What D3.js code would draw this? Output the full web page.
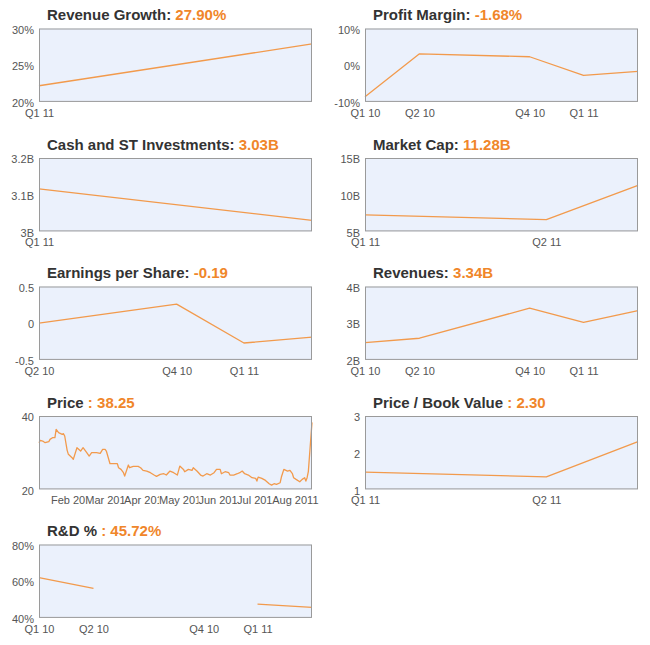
<!DOCTYPE html>
<html>
<head>
<meta charset="utf-8">
<script src="https://cdn.jsdelivr.net/npm/d3@7"></script>
<style>
  html, body { margin: 0; padding: 0; background: #fff; }
  svg { display: block; font-family: Arial, "Liberation Sans", sans-serif; }
</style>
</head>
<body>
<svg id="chart" width="650" height="645"></svg>
<script>
// ---------- DATA ----------
const periodDates = {
  "Q1 10": "2010-03-31", "Q2 10": "2010-06-30", "Q3 10": "2010-09-30",
  "Q4 10": "2010-12-31", "Q1 11": "2011-03-31", "Q2 11": "2011-06-30",
  "Current": "2011-08-15"
};

const revenueGrowthPeriods = ["Q1 11", "Q2 11"];
const revenueGrowthValues = [22.2, 27.9];
const revenueGrowthTicks = [20, 25, 30];
const revenueGrowthLabels = ["Q1 11"];

const profitMarginPeriods = ["Q1 10", "Q2 10", "Q4 10", "Q1 11", "Q2 11"];
const profitMarginValues = [-8.6, 3.1, 2.3, -2.8, -1.68];
const profitMarginTicks = [-10, 0, 10];
const profitMarginLabels = ["Q1 10", "Q2 10", "Q4 10", "Q1 11"];

const cashPeriods = ["Q1 11", "Q2 11"];
const cashValues = [3.116, 3.03];
const cashTicks = [3, 3.1, 3.2];
const cashLabels = ["Q1 11"];

const marketCapPeriods = ["Q1 11", "Q2 11", "Current"];
const marketCapValues = [7.25, 6.6, 11.28];
const marketCapTicks = [5, 10, 15];
const marketCapLabels = ["Q1 11", "Q2 11"];

const epsPeriods = ["Q2 10", "Q4 10", "Q1 11", "Q2 11"];
const epsValues = [0.0, 0.26, -0.27, -0.19];
const epsTicks = [-0.5, 0, 0.5];
const epsLabels = ["Q2 10", "Q4 10", "Q1 11"];

const revenuesPeriods = ["Q1 10", "Q2 10", "Q4 10", "Q1 11", "Q2 11"];
const revenuesValues = [2.47, 2.59, 3.41, 3.02, 3.34];
const revenuesTicks = [2, 3, 4];
const revenuesLabels = ["Q1 10", "Q2 10", "Q4 10", "Q1 11"];

const priceDates = [
  "2011-01-04","2011-01-05","2011-01-07","2011-01-09","2011-01-12","2011-01-13","2011-01-15","2011-01-17",
  "2011-01-18","2011-01-20","2011-01-23","2011-01-24","2011-01-25","2011-01-27","2011-01-28","2011-01-31",
  "2011-02-01","2011-02-04","2011-02-07","2011-02-09","2011-02-12","2011-02-14","2011-02-16","2011-02-20",
  "2011-02-23","2011-02-25","2011-02-27","2011-02-28","2011-03-03","2011-03-06","2011-03-09","2011-03-10",
  "2011-03-12","2011-03-14","2011-03-15","2011-03-18","2011-03-19","2011-03-22","2011-03-26","2011-03-28",
  "2011-03-30","2011-04-02","2011-04-05","2011-04-08","2011-04-10","2011-04-13","2011-04-16","2011-04-18",
  "2011-04-21","2011-04-24","2011-04-27","2011-04-29","2011-05-02","2011-05-03","2011-05-06","2011-05-09",
  "2011-05-10","2011-05-13","2011-05-16","2011-05-18","2011-05-21","2011-05-24","2011-05-27","2011-05-29",
  "2011-06-01","2011-06-02","2011-06-05","2011-06-08","2011-06-09","2011-06-12","2011-06-15","2011-06-17",
  "2011-06-19","2011-06-21","2011-06-24","2011-06-27","2011-06-30","2011-07-01","2011-07-02","2011-07-05",
  "2011-07-08","2011-07-11","2011-07-13","2011-07-15","2011-07-17","2011-07-20","2011-07-21","2011-07-23",
  "2011-07-26","2011-07-28","2011-07-30","2011-07-31","2011-08-02","2011-08-05","2011-08-07","2011-08-09",
  "2011-08-10","2011-08-11","2011-08-12","2011-08-15"
];
const priceValues = [
  32.73,33.36,33.18,32.73,33.00,33.64,34.09,34.09,
  36.36,35.45,35.00,35.18,34.55,30.64,29.55,28.64,
  28.18,31.36,30.45,31.36,30.00,29.09,30.00,30.00,
  29.82,30.91,30.91,30.45,27.00,27.00,27.00,25.91,
  25.45,24.55,23.64,26.64,25.91,26.27,26.27,25.91,
  25.18,25.00,24.55,23.91,23.55,24.09,24.27,23.91,
  25.00,24.55,23.91,26.36,25.45,24.82,25.45,25.18,
  25.91,25.00,23.91,23.64,24.27,23.91,24.55,25.45,
  25.45,24.27,24.82,24.55,23.91,23.91,24.27,24.55,
  25.00,24.27,23.91,23.18,23.00,22.27,23.36,23.00,
  22.45,21.55,21.18,21.55,21.36,21.82,23.36,25.45,
  25.00,25.18,24.27,23.18,22.73,22.09,22.73,23.18,
  22.27,23.18,24.82,38.25
];
const priceTicks = [20, 40];
const priceMonthTicks = ["2011-02-01","2011-03-01","2011-04-01","2011-05-01","2011-06-01","2011-07-01","2011-08-01"];

const pbPeriods = ["Q1 11", "Q2 11", "Current"];
const pbValues = [1.47, 1.34, 2.30];
const pbTicks = [1, 2, 3];
const pbLabels = ["Q1 11", "Q2 11"];

const rndPeriods = ["Q1 10", "Q2 10", "Q3 10", "Q4 10", "Q1 11", "Q2 11"];
const rndValues = [62.0, 56.1, null, null, 47.5, 45.72];
const rndTicks = [40, 60, 80];
const rndLabels = ["Q1 10", "Q2 10", "Q4 10", "Q1 11"];

// ---------- LAYOUT ----------
const parse = d3.timeParse("%Y-%m-%d");
const colX = [39, 365];
const rowY = [28.5, 158, 286.5, 416, 544.5];
const PW = 273, PH = 73.4;

const fmtPct = v => v + "%";
const fmtB = v => v + "B";
const fmtN = v => String(v);

const panels = [
  { col: 0, row: 0, name: "Revenue Growth:", sep: " ", value: "27.90%",
    dates: revenueGrowthPeriods.map(p => periodDates[p]), values: revenueGrowthValues,
    yTicks: revenueGrowthTicks, fmt: fmtPct, xLabels: revenueGrowthLabels.map(p => [periodDates[p], p]) },
  { col: 1, row: 0, name: "Profit Margin:", sep: " ", value: "-1.68%",
    dates: profitMarginPeriods.map(p => periodDates[p]), values: profitMarginValues,
    yTicks: profitMarginTicks, fmt: fmtPct, xLabels: profitMarginLabels.map(p => [periodDates[p], p]) },
  { col: 0, row: 1, name: "Cash and ST Investments:", sep: " ", value: "3.03B",
    dates: cashPeriods.map(p => periodDates[p]), values: cashValues,
    yTicks: cashTicks, fmt: fmtB, xLabels: cashLabels.map(p => [periodDates[p], p]) },
  { col: 1, row: 1, name: "Market Cap:", sep: " ", value: "11.28B",
    dates: marketCapPeriods.map(p => periodDates[p]), values: marketCapValues,
    yTicks: marketCapTicks, fmt: fmtB, xLabels: marketCapLabels.map(p => [periodDates[p], p]) },
  { col: 0, row: 2, name: "Earnings per Share:", sep: " ", value: "-0.19",
    dates: epsPeriods.map(p => periodDates[p]), values: epsValues,
    yTicks: epsTicks, fmt: fmtN, xLabels: epsLabels.map(p => [periodDates[p], p]) },
  { col: 1, row: 2, name: "Revenues:", sep: " ", value: "3.34B",
    dates: revenuesPeriods.map(p => periodDates[p]), values: revenuesValues,
    yTicks: revenuesTicks, fmt: fmtB, xLabels: revenuesLabels.map(p => [periodDates[p], p]) },
  { col: 0, row: 3, name: "Price", sep: "", value: " : 38.25",
    dates: priceDates, values: priceValues,
    yTicks: priceTicks, fmt: fmtN, xLabels: priceMonthTicks.map(d => [d, d3.timeFormat("%b %Y")(parse(d))]) },
  { col: 1, row: 3, name: "Price / Book Value", sep: "", value: " : 2.30",
    dates: pbPeriods.map(p => periodDates[p]), values: pbValues,
    yTicks: pbTicks, fmt: fmtN, xLabels: pbLabels.map(p => [periodDates[p], p]) },
  { col: 0, row: 4, name: "R&D %", sep: "", value: " : 45.72%",
    dates: rndPeriods.map(p => periodDates[p]), values: rndValues,
    yTicks: rndTicks, fmt: fmtPct, xLabels: rndLabels.map(p => [periodDates[p], p]) }
];

const svg = d3.select("#chart");

panels.forEach(p => {
  const x0 = colX[p.col], y0 = rowY[p.row];
  const g = svg.append("g").attr("transform", `translate(${x0},${y0})`);
  const pts = p.dates.map((d, i) => ({ date: parse(d), v: p.values[i] }));

  const x = d3.scaleTime().domain(d3.extent(pts, d => d.date)).range([0, PW]);
  const y = d3.scaleLinear().domain(d3.extent(p.yTicks)).range([PH, 0]);

  // background
  g.append("rect").attr("x", 0).attr("y", 0).attr("width", PW).attr("height", PH)
    .attr("fill", "#ebf1fc");

  // line
  const line = d3.line().defined(d => d.v !== null).x(d => x(d.date)).y(d => y(d.v));
  g.append("path").datum(pts).attr("d", line)
    .attr("fill", "none").attr("stroke", "#f29a4c").attr("stroke-width", 1.3)
    .attr("stroke-linejoin", "round");

  // border
  g.append("rect").attr("x", 0.5).attr("y", 0.5).attr("width", PW - 1).attr("height", PH - 1)
    .attr("fill", "none").attr("stroke", "#9a9a9a").attr("stroke-width", 1);

  // x axis labels (each label sits on a white patch, later ones cover earlier ones)
  const xAxis = d3.axisBottom(x).tickValues(p.xLabels.map(l => parse(l[0])))
    .tickFormat((d, i) => p.xLabels[i][1]).tickSize(0).tickPadding(7);
  const xa = g.append("g").attr("transform", `translate(0,${PH})`).call(xAxis);
  xa.select(".domain").remove();
  xa.selectAll("text").attr("font-size", 11).attr("fill", "#555")
    .attr("font-family", "Arial, 'Liberation Sans', sans-serif");
  xa.selectAll(".tick").each(function() {
    const tick = d3.select(this);
    const bb = tick.select("text").node().getBBox();
    tick.insert("rect", "text").attr("x", bb.x).attr("y", bb.y + 1)
      .attr("width", bb.width).attr("height", bb.height - 1).attr("fill", "#fff");
  });

  // y axis labels (drawn after the x labels so they stay fully visible)
  const yAxis = d3.axisLeft(y).tickValues(p.yTicks).tickFormat(p.fmt).tickSize(0).tickPadding(5);
  const ya = g.append("g").call(yAxis);
  ya.select(".domain").remove();
  ya.selectAll("text").attr("font-size", 11).attr("fill", "#555").attr("dy", "0.42em")
    .attr("font-family", "Arial, 'Liberation Sans', sans-serif");

  // title
  const t = g.append("text").attr("x", 8).attr("y", -8.5)
    .attr("font-size", 15).attr("font-weight", "bold").style("white-space", "pre");
  t.append("tspan").attr("fill", "#333").text(p.name + p.sep);
  t.append("tspan").attr("fill", "#f0862a").text(p.value);
});
</script>
</body>
</html>
